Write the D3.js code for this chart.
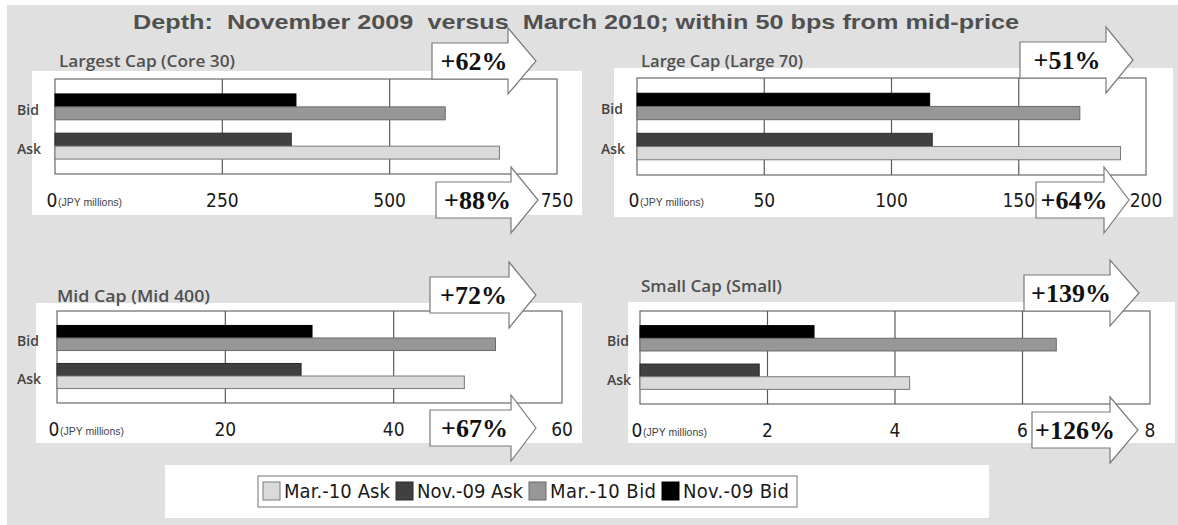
<!DOCTYPE html>
<html>
<head>
<meta charset="utf-8">
<script src="https://cdn.jsdelivr.net/npm/d3@7"></script>
<style>
  html, body { margin: 0; padding: 0; background: #ffffff; }
  svg { display: block; }
</style>
</head>
<body>
<svg id="chart" width="1178" height="525"></svg>
<script>
// ---- Data: order-book depth within 50 bps of mid-price (JPY millions) ----
const panelTitles = ["Largest Cap (Core 30)", "Large Cap (Large 70)", "Mid Cap (Mid 400)", "Small Cap (Small)"];
const sides = ["Bid", "Ask"];
const seriesNames = ["Mar.-10 Ask", "Nov.-09 Ask", "Mar.-10 Bid", "Nov.-09 Bid"];
const nov09Bid = [360, 115, 30.3, 2.73];
const mar10Bid = [583, 174, 52.1, 6.53];
const nov09Ask = [353, 116, 29.0, 1.87];
const mar10Ask = [664, 190, 48.4, 4.23];
const axisMax = [750, 200, 60, 8];
const tickValues = [[0, 250, 500, 750], [0, 50, 100, 150, 200], [0, 20, 40, 60], [0, 2, 4, 6, 8]];
const unitLabel = "(JPY millions)";
const titleText = "Depth:  November 2009  versus  March 2010; within 50 bps from mid-price";

// ---- Styles ----
const colors = {
  "Mar.-10 Ask": "#dadada",
  "Nov.-09 Ask": "#404040",
  "Mar.-10 Bid": "#979797",
  "Nov.-09 Bid": "#000000"
};
const strokes = {
  "Mar.-10 Ask": "#7a7a7a",
  "Nov.-09 Ask": "#2a2a2a",
  "Mar.-10 Bid": "#6a6a6a",
  "Nov.-09 Bid": "#000000"
};
const labelFont = "'Open Sans', 'Noto Sans', sans-serif";
const tickFont = "'Liberation Sans Narrow', 'Arial Narrow', 'DejaVu Sans Condensed', sans-serif";
const serifFont = "'Liberation Serif', 'Times New Roman', serif";

// ---- Layout of the four panels ----
const layout = [
  { box: [32, 71, 582, 215], plot: [55, 79, 557, 174], titleX: 59, titleY: 67, titleW: 176, sideX: 17, tickY: 207,
    upArrow: [432, 508, 536, 61], downArrow: [436, 511, 538, 200] },
  { box: [614, 68, 1173, 217], plot: [637, 78, 1146, 175], titleX: 641, titleY: 67, titleW: 162, sideX: 601, tickY: 207,
    upArrow: [1020, 1106, 1133, 60], downArrow: [1036, 1104, 1129, 200] },
  { box: [36, 303, 582, 443], plot: [57, 311, 562, 403], titleX: 57, titleY: 302, titleW: 153, sideX: 17, tickY: 436,
    upArrow: [430, 509, 536, 295], downArrow: [430, 511, 536, 428] },
  { box: [628, 302, 1175, 443], plot: [640, 311, 1150, 404], titleX: 641, titleY: 292, titleW: 141, sideX: 607, tickY: 437,
    upArrow: [1024, 1110, 1139, 293], downArrow: [1032, 1110, 1138, 430] }
];

const svg = d3.select("#chart");

// page background
svg.append("rect").attr("x", 7).attr("y", 5).attr("width", 1171).attr("height", 520).attr("fill", "#e0e0e0");

// main title
svg.append("text")
  .attr("x", 133).attr("y", 29)
  .attr("textLength", 886).attr("lengthAdjust", "spacingAndGlyphs")
  .attr("font-family", "'Liberation Sans', Arial, sans-serif")
  .attr("font-weight", "bold").attr("font-size", 21)
  .attr("fill", "#505050")
  .attr("xml:space", "preserve")
  .text(titleText);

function pct(a, b) { return "+" + Math.round((a / b - 1) * 100) + "%"; }

function blockArrow(g, spec, label) {
  const [xl, xb, xt, yc] = spec;
  const bh = 18, hh = 33;
  const pts = [
    [xl, yc - bh], [xb, yc - bh], [xb, yc - hh], [xt, yc],
    [xb, yc + hh], [xb, yc + bh], [xl, yc + bh]
  ];
  g.append("path")
    .attr("d", d3.line()(pts) + "Z")
    .attr("fill", "#ffffff").attr("stroke", "#7a7a7a").attr("stroke-width", 1.2);
  g.append("text")
    .attr("x", (xl + xb) / 2 + 4).attr("y", yc)
    .attr("dy", "0.35em").attr("text-anchor", "middle")
    .attr("font-family", serifFont).attr("font-weight", "bold").attr("font-size", 26)
    .attr("fill", "#111111")
    .text(label);
}

layout.forEach((L, i) => {
  const g = svg.append("g");
  const [bx0, by0, bx1, by1] = L.box;
  const [px0, py0, px1, py1] = L.plot;

  g.append("rect").attr("x", bx0).attr("y", by0).attr("width", bx1 - bx0).attr("height", by1 - by0).attr("fill", "#ffffff");

  const x = d3.scaleLinear().domain([0, axisMax[i]]).range([px0, px1]);
  const y = d3.scaleBand().domain(sides).range([py0, py1]).paddingInner(0.34).paddingOuter(0.38);
  const sub = d3.scaleBand().domain(["nov", "mar"]).range([0, y.bandwidth()]);

  // plot frame and vertical gridlines
  g.append("rect").attr("x", px0).attr("y", py0).attr("width", px1 - px0).attr("height", py1 - py0)
    .attr("fill", "none").attr("stroke", "#6a6a6a").attr("stroke-width", 1.2);
  g.selectAll("line.grid").data(tickValues[i].filter(v => v > 0 && v < axisMax[i])).join("line")
    .attr("class", "grid")
    .attr("x1", d => x(d)).attr("x2", d => x(d))
    .attr("y1", py0).attr("y2", py1)
    .attr("stroke", "#5a5a5a").attr("stroke-width", 1.2);

  // bars
  const rows = [
    { side: "Bid", when: "nov", series: "Nov.-09 Bid", value: nov09Bid[i] },
    { side: "Bid", when: "mar", series: "Mar.-10 Bid", value: mar10Bid[i] },
    { side: "Ask", when: "nov", series: "Nov.-09 Ask", value: nov09Ask[i] },
    { side: "Ask", when: "mar", series: "Mar.-10 Ask", value: mar10Ask[i] }
  ];
  g.selectAll("rect.bar").data(rows).join("rect")
    .attr("class", "bar")
    .attr("x", x(0))
    .attr("y", d => y(d.side) + sub(d.when))
    .attr("width", d => x(d.value) - x(0))
    .attr("height", sub.bandwidth())
    .attr("fill", d => colors[d.series])
    .attr("stroke", d => strokes[d.series]).attr("stroke-width", 1);

  // category labels
  g.selectAll("text.side").data(sides).join("text")
    .attr("class", "side")
    .attr("x", L.sideX).attr("y", d => y(d) + y.bandwidth() / 2 + 3)
    .attr("dy", "0.35em")
    .attr("font-family", labelFont).attr("font-weight", 600).attr("font-size", 14)
    .attr("fill", "#444444")
    .text(d => d);

  // panel title
  g.append("text")
    .attr("x", L.titleX).attr("y", L.titleY)
    .attr("font-family", labelFont).attr("font-weight", 600).attr("font-size", 16)
    .attr("textLength", L.titleW).attr("lengthAdjust", "spacingAndGlyphs")
    .attr("fill", "#505050")
    .text(panelTitles[i]);

  // tick labels
  g.selectAll("text.tick").data(tickValues[i]).join("text")
    .attr("class", "tick")
    .attr("x", d => d === 0 ? x(d) - 3 : x(d))
    .attr("y", L.tickY)
    .attr("text-anchor", "middle")
    .attr("font-family", tickFont).attr("font-size", 19)
    .attr("fill", "#1a1a1a")
    .text(d => d);
  g.append("text")
    .attr("x", x(0) + 3).attr("y", L.tickY - 1)
    .attr("font-family", "'Liberation Sans', Arial, sans-serif").attr("font-size", 10.5)
    .attr("fill", "#444444")
    .text(unitLabel);

  // change arrows: Bid on top, Ask below
  blockArrow(g, L.upArrow, pct(mar10Bid[i], nov09Bid[i]));
  blockArrow(g, L.downArrow, pct(mar10Ask[i], nov09Ask[i]));
});

// ---- Legend ----
const lg = svg.append("g");
lg.append("rect").attr("x", 165).attr("y", 465).attr("width", 824).attr("height", 53).attr("fill", "#ffffff");
lg.append("rect").attr("x", 258).attr("y", 476).attr("width", 539).attr("height", 31)
  .attr("fill", "#ffffff").attr("stroke", "#8a8a8a").attr("stroke-width", 1.2);
let lx = 263;
seriesNames.forEach(name => {
  lg.append("rect").attr("x", lx).attr("y", 482).attr("width", 17).attr("height", 18)
    .attr("fill", colors[name]).attr("stroke", strokes[name]).attr("stroke-width", 1);
  lg.append("text")
    .attr("x", lx + 21).attr("y", 491).attr("dy", "0.35em")
    .attr("font-family", tickFont).attr("font-size", 20)
    .attr("fill", "#1a1a1a")
    .attr("textLength", 106).attr("lengthAdjust", "spacing")
    .text(name);
  lx += 21 + 106 + 6;
});
</script>
</body>
</html>
